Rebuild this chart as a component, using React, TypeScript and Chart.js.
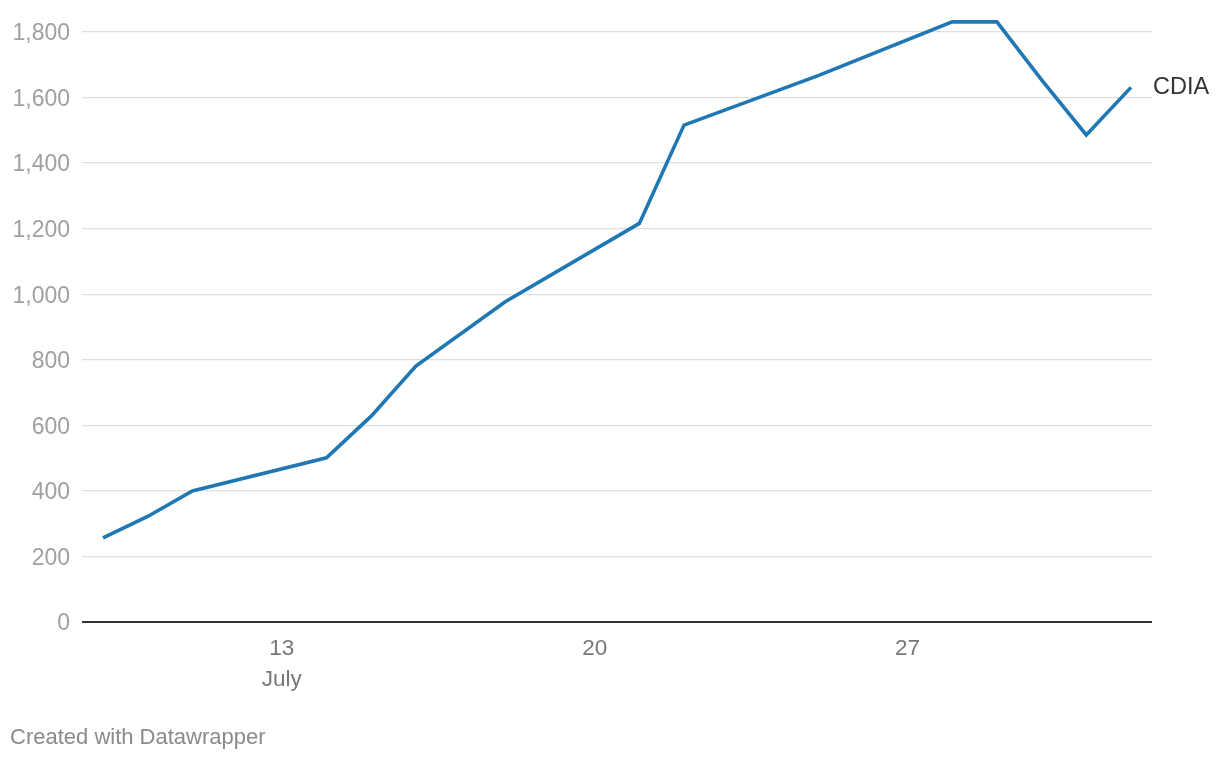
import React, { useEffect, useRef } from "react";
import { Chart, registerables } from "chart.js";

Chart.register(...registerables);

// Day of July (32 = August 1)
const days = [9, 10, 11, 14, 15, 16, 18, 21, 22, 25, 28, 29, 30, 31, 32];
const cdiaValues = [257, 322, 400, 501, 628, 781, 977, 1216, 1516, 1667, 1831, 1831, 1654, 1486, 1631];
const seriesName = "CDIA";
const yTicks = [0, 200, 400, 600, 800, 1000, 1200, 1400, 1600, 1800];
const xTicks = [13, 20, 27];
const xTickLabels = ["13", "20", "27"];
const monthLabel = "July";
const footerText = "Created with Datawrapper";

const FONT = "'Liberation Sans', Arial, Helvetica, sans-serif";

export default function App() {
  const ref = useRef<HTMLCanvasElement | null>(null);
  useEffect(() => {
    if (!ref.current) return;
    const labelPlugin = {
      id: "extras",
      afterDatasetsDraw(chart: any) {
        const ctx = chart.ctx;
        const meta = chart.getDatasetMeta(0);
        const last = meta.data[meta.data.length - 1];
        ctx.save();
        ctx.font = `23.5px ${FONT}`;
        ctx.fillStyle = "#333333";
        ctx.textAlign = "left";
        ctx.textBaseline = "middle";
        ctx.fillText(seriesName, chart.chartArea.right + 1, last.y);
        ctx.font = `22px ${FONT}`;
        ctx.fillStyle = "#8a8a8a";
        ctx.fillText(footerText, 10, 738);
        ctx.restore();
      },
    };
    const chart = new Chart(ref.current, {
      type: "line",
      data: {
        datasets: [
          {
            label: seriesName,
            data: days.map((d, i) => ({ x: d, y: cdiaValues[i] })),
            borderColor: "#1f77b4",
            borderWidth: 3.6,
            pointRadius: 0,
            tension: 0,
            fill: false,
          },
        ],
      },
      options: {
        responsive: false,
        animation: false,
        events: [],
        layout: { padding: { top: 15.6, right: 68, bottom: 0, left: 0 } },
        plugins: { legend: { display: false }, tooltip: { enabled: false } },
        scales: {
          x: {
            type: "linear",
            min: 8.53,
            max: 32.47,
            afterFit: (s: any) => {
              s.height = 138;
              s.paddingLeft = 0;
              s.paddingRight = 0;
            },
            afterBuildTicks: (s: any) => {
              s.ticks = xTicks.map((v) => ({ value: v }));
            },
            grid: { display: false, drawTicks: false },
            border: { display: false },
            ticks: {
              padding: 12,
              maxRotation: 0,
              autoSkip: false,
              color: "#777777",
              font: { family: FONT, size: 22.5, lineHeight: 1.35 },
              callback: (v: any) => {
                const idx = xTicks.indexOf(Number(v));
                const lbl = xTickLabels[idx];
                return idx === 0 ? [lbl, monthLabel] : lbl;
              },
            },
          },
          y: {
            min: 0,
            max: 1850,
            afterFit: (s: any) => {
              s.width = 82;
              s.paddingTop = 0;
              s.paddingBottom = 0;
            },
            afterBuildTicks: (s: any) => {
              s.ticks = yTicks.map((v) => ({ value: v }));
            },
            grid: {
              drawTicks: false,
              color: (c: any) => (c.tick && c.tick.value === 0 ? "#333333" : "#e0e0e0"),
              lineWidth: (c: any) => (c.tick && c.tick.value === 0 ? 2 : 1.3),
            },
            border: { display: false },
            ticks: {
              padding: 12,
              labelOffset: 2,
              color: "#a0a0a0",
              font: { family: FONT, size: 23 },
              callback: (v: any) => Number(v).toLocaleString("en-US"),
            },
          },
        },
      },
      plugins: [labelPlugin],
    });
    return () => chart.destroy();
  }, []);
  return (
    <div style={{ position: "absolute", left: 0, top: 0, width: 1220, height: 760, background: "#fff" }}>
      <canvas ref={ref} width={1220} height={760} />
    </div>
  );
}
